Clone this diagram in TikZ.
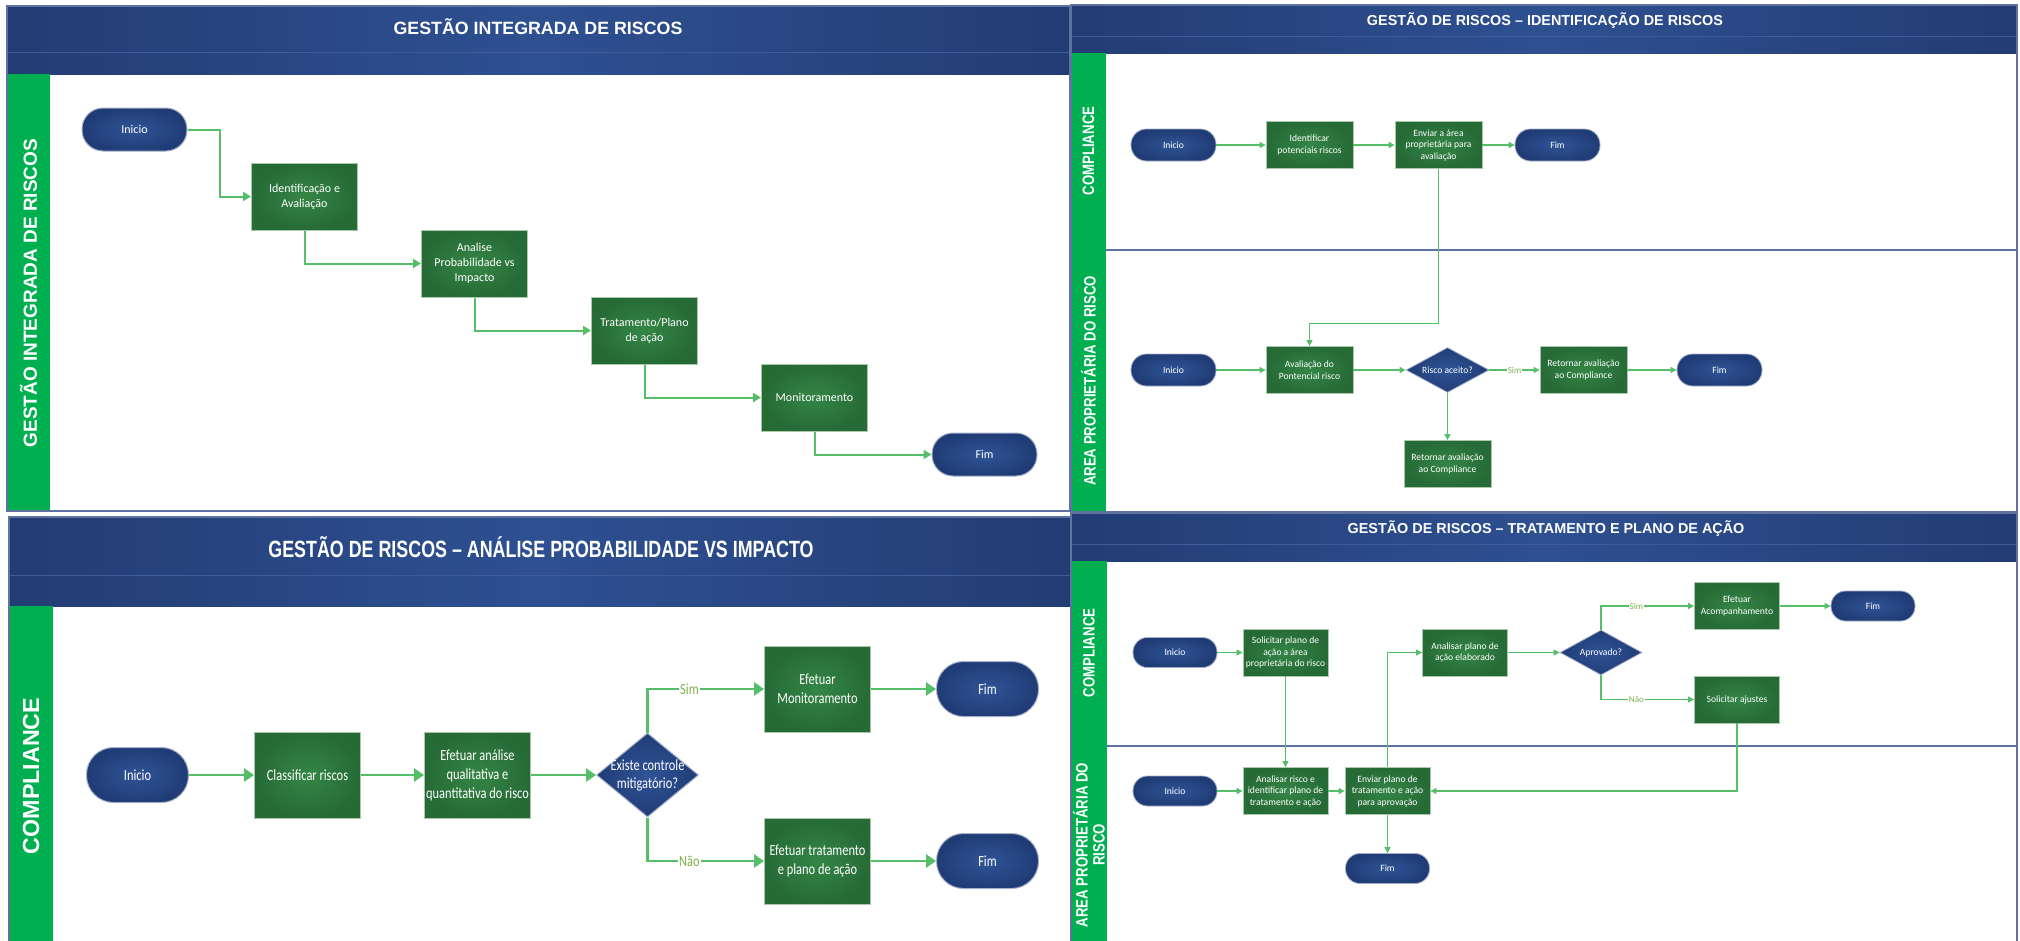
\documentclass[tikz,border=0pt]{standalone}
\usepackage{fontspec}
\setmainfont{Carlito}
\newfontfamily\titlefont{Liberation Sans}
\newfontfamily\titlenarrow{Liberation Sans}[FakeStretch=0.76]
\newfontfamily\lanenarrow{Liberation Sans}[FakeStretch=0.8]
\newfontfamily\boxnarrow{Carlito}[FakeStretch=0.8]
\usetikzlibrary{arrows.meta,shapes.geometric,positioning}

\definecolor{hdrblue}{RGB}{35,60,116}
\definecolor{hdrlight}{RGB}{46,80,145}
\definecolor{hdrline}{RGB}{62,92,152}
\definecolor{lanegreen}{RGB}{0,176,80}
\definecolor{termblue}{RGB}{32,60,118}
\definecolor{termlight}{RGB}{48,84,150}
\definecolor{termedge}{RGB}{165,175,200}
\definecolor{procgreen}{RGB}{38,106,54}
\definecolor{proclight}{RGB}{52,134,70}
\definecolor{procedge}{RGB}{170,200,170}
\definecolor{flowgreen}{RGB}{84,190,104}
\definecolor{labelgreen}{RGB}{128,178,78}
\definecolor{frameblue}{RGB}{95,115,160}

\begin{document}
\begin{tikzpicture}[x=1pt,y=-1pt,
Term1/.style={rectangle, rounded corners=21pt, inner color=termlight, outer color=termblue, draw=termedge, line width=1pt, minimum width=105pt, minimum height=43pt, text=white, font=\fontsize{12}{15}\selectfont, node distance=170pt},
Proc1/.style={rectangle, inner color=proclight, outer color=procgreen, draw=procedge, line width=1pt, minimum width=106pt, minimum height=67pt, text=white, align=center, font=\fontsize{12}{15}\selectfont, node distance=170pt},
Term2/.style={rectangle, rounded corners=15.5pt, inner color=termlight, outer color=termblue, draw=termedge, line width=0.8pt, minimum width=85pt, minimum height=32pt, text=white, font=\fontsize{9.6}{11.5}\selectfont, node distance=129pt},
Proc2/.style={rectangle, inner color=proclight, outer color=procgreen, draw=procedge, line width=0.8pt, minimum width=87pt, minimum height=47pt, inner sep=1pt, text=white, align=center, font=\fontsize{9.6}{11.5}\selectfont, node distance=129pt},
Dec2/.style={diamond, aspect=1.8, inner sep=0pt, inner color=termlight, outer color=termblue, draw=termedge, line width=0.8pt, minimum width=83pt, minimum height=45pt, text=white, align=center, font=\fontsize{9.6}{11.5}\selectfont, node distance=129pt},
Term3/.style={rectangle, rounded corners=27pt, inner color=termlight, outer color=termblue, draw=termedge, line width=1pt, minimum width=102pt, minimum height=55pt, text=white, font=\boxnarrow\fontsize{15.5}{19}\selectfont, node distance=170pt},
Proc3/.style={rectangle, inner color=proclight, outer color=procgreen, draw=procedge, line width=1pt, minimum width=106pt, minimum height=86pt, inner sep=1pt, text=white, align=center, font=\boxnarrow\fontsize{15.5}{19}\selectfont, node distance=170pt},
Dec3/.style={diamond, aspect=1.2, inner sep=-10pt, inner color=termlight, outer color=termblue, draw=termedge, line width=1pt, minimum width=102pt, minimum height=84pt, text=white, align=center, font=\boxnarrow\fontsize{15.5}{18}\selectfont, node distance=170pt},
Term4/.style={Term2, minimum width=84pt, minimum height=30pt, rounded corners=14.5pt, node distance=136pt},
Proc4/.style={Proc2, minimum width=85pt, node distance=136pt},
Dec4/.style={Dec2, minimum width=82pt, node distance=136pt},
flow_big/.style={draw=flowgreen, line width=2pt, -{Triangle[length=8pt,width=9pt]}},
flow_small/.style={draw=flowgreen, line width=1.2pt, -{Triangle[length=6pt,width=6pt]}},
flow_wide/.style={draw=flowgreen, line width=2.5pt, -{Triangle[length=10pt,width=13pt]}},
lbl_small/.style={fill=white, inner sep=1pt, text=labelgreen, font=\fontsize{9}{9}\selectfont},
lbl_big/.style={fill=white, inner sep=1pt, text=labelgreen, font=\boxnarrow\fontsize{15.5}{15.5}\selectfont},
hdr/.style={left color=hdrblue, right color=hdrblue, middle color=hdrlight},
lane/.style={rotate=90, text=white, align=center},
]
\useasboundingbox (0,0) rectangle (2020,940);
\fill[white] (0,0) rectangle (2020,940);

% panel frames
\shade[hdr] (7,6) rectangle (1070,74);
\draw[hdrline, line width=1pt] (7,52) -- (1070,52);
\fill[lanegreen] (7,74) rectangle (50,511);
\draw[frameblue, line width=1.5pt] (7,6) rectangle (1070,511);

\shade[hdr] (1071,5) rectangle (2017,53);
\draw[hdrline, line width=1pt] (1071,36) -- (2017,36);
\fill[lanegreen] (1071,53) rectangle (1106,512);
\draw[frameblue, line width=1.5pt] (1106,250) -- (2017,250);
\draw[frameblue, line width=1.5pt] (1071,5) rectangle (2017,512);

\shade[hdr] (9,517) rectangle (1072,606);
\draw[hdrline, line width=1pt] (9,575) -- (1072,575);
\fill[lanegreen] (9,606) rectangle (53,945);
\draw[frameblue, line width=1.5pt] (9,517) rectangle (1072,945);

\shade[hdr] (1071,513) rectangle (2017,561);
\draw[hdrline, line width=1pt] (1071,544) -- (2017,544);
\fill[lanegreen] (1071,561) rectangle (1107,945);
\draw[frameblue, line width=1.5pt] (1107,746) -- (2017,746);
\draw[frameblue, line width=1.5pt] (1071,513) rectangle (2017,945);

% titles and lanes
\node[text=white, font=\titlefont\bfseries\fontsize{17.8}{18}\selectfont] (ttl1) at (538,27) {GESTÃO INTEGRADA DE RISCOS};
\node[text=white, font=\titlefont\bfseries\fontsize{14.4}{15}\selectfont] (ttl2) at (1545,21) {GESTÃO DE RISCOS – IDENTIFICAÇÃO DE RISCOS};
\node[text=white, font=\titlenarrow\bfseries\fontsize{23.5}{24}\selectfont] (ttl3) at (541,547) {GESTÃO DE RISCOS – ANÁLISE PROBABILIDADE VS IMPACTO};
\node[text=white, font=\titlefont\bfseries\fontsize{14.4}{15}\selectfont] (ttl4) at (1546,529) {GESTÃO DE RISCOS – TRATAMENTO E PLANO DE AÇÃO};
\node[lane, font=\titlefont\bfseries\fontsize{19}{19}\selectfont] (lane1) at (28.5,293) {GESTÃO INTEGRADA DE RISCOS};
\node[lane, font=\lanenarrow\bfseries\fontsize{16.5}{17}\selectfont] (lane2a) at (1088.5,151) {COMPLIANCE};
\node[lane, font=\lanenarrow\bfseries\fontsize{16.5}{17}\selectfont] (lane2b) at (1088.5,381) {AREA PROPRIETÁRIA DO RISCO};
\node[lane, font=\titlefont\bfseries\fontsize{23.3}{24}\selectfont] (lane3) at (31,776) {COMPLIANCE};
\node[lane, font=\lanenarrow\bfseries\fontsize{16.5}{17}\selectfont] (lane4a) at (1089,653) {COMPLIANCE};
\node[lane, font=\lanenarrow\bfseries\fontsize{16.5}{17}\selectfont] (lane4b) at (1089,845) {AREA PROPRIETÁRIA DO\\RISCO};

% panel 1
\node[Term1] (ini1) at (134.5,129.5) {Inicio};
\node[Proc1, right of=ini1, yshift=-67pt] (ident1) {Identificação e\\Avaliação};
\node[Proc1, right of=ident1, yshift=-67pt] (anal1) {Analise\\Probabilidade vs\\Impacto};
\node[Proc1, right of=anal1, yshift=-67pt] (trat1) {Tratamento/Plano\\de ação};
\node[Proc1, right of=trat1, yshift=-67pt] (mon1) {Monitoramento};
\node[Term1, right of=mon1, yshift=-57pt] (fim1) {Fim};
\draw[flow_big] (ini1.east) -- ++(32,0) |- (ident1.west);
\draw[flow_big] (ident1.south) |- (anal1.west);
\draw[flow_big] (anal1.south) |- (trat1.west);
\draw[flow_big] (trat1.south) |- (mon1.west);
\draw[flow_big] (mon1.south) |- (fim1.west);

% panel 2
\node[Term2] (ini2a) at (1173.5,145) {Inicio};
\node[Proc2, right of=ini2a, xshift=7pt] (ident2) {Identificar\\potenciais riscos};
\node[Proc2, right of=ident2] (env2) {Enviar a área\\proprietária para\\avaliação};
\node[Term2, right of=env2, xshift=-10pt] (fim2a) {Fim};
\node[Term2] (ini2b) at (1173.5,370) {Inicio};
\node[Proc2, right of=ini2b, xshift=7pt] (aval2) {Avaliação do\\Pontencial risco};
\node[Dec2, right of=aval2, xshift=9pt] (dec2) {Risco aceito?};
\node[Proc2, right of=dec2, xshift=7pt] (ret2a) {Retornar avaliação\\ao Compliance};
\node[Term2, right of=ret2a, xshift=7pt] (fim2b) {Fim};
\node[Proc2, below of=dec2, yshift=35pt] (ret2b) {Retornar avaliação\\ao Compliance};
\draw[flow_small] (ini2a) -- (ident2);
\draw[flow_small] (ident2) -- (env2);
\draw[flow_small] (env2) -- (fim2a);
\draw[flow_small] (env2.south) -- ++(0,154.5) -| (aval2.north);
\draw[flow_small] (ini2b) -- (aval2);
\draw[flow_small] (aval2) -- (dec2);
\draw[flow_small] (dec2) -- node[lbl_small] (sim2) {Sim} (ret2a);
\draw[flow_small] (ret2a) -- (fim2b);
\draw[flow_small] (dec2) -- (ret2b);

% panel 3
\node[Term3] (ini3) at (137.5,775) {Inicio};
\node[Proc3, right of=ini3] (class3) {Classificar riscos};
\node[Proc3, right of=class3] (anal3) {Efetuar análise\\qualitativa e\\quantitativa do risco};
\node[Dec3, right of=anal3] (dec3) {Existe controle\\mitigatório?};
\node[Proc3, right of=dec3, yshift=86pt] (mon3) {Efetuar\\Monitoramento};
\node[Term3, right of=mon3] (fim3a) {Fim};
\node[Proc3, right of=dec3, yshift=-86pt] (trat3) {Efetuar tratamento\\e plano de ação};
\node[Term3, right of=trat3] (fim3b) {Fim};
\draw[flow_wide] (ini3) -- (class3);
\draw[flow_wide] (class3) -- (anal3);
\draw[flow_wide] (anal3) -- (dec3);
\draw[flow_wide] (dec3.north) |- node[lbl_big, pos=0.68] (sim3) {Sim} (mon3.west);
\draw[flow_wide] (dec3.south) |- node[lbl_big, pos=0.68] (nao3) {Não} (trat3.west);
\draw[flow_wide] (mon3) -- (fim3a);
\draw[flow_wide] (trat3) -- (fim3b);

% panel 4
\node[Term4] (ini4a) at (1175,652.5) {Inicio};
\node[Proc4, right of=ini4a, xshift=-25.5pt] (sol4) {Solicitar plano de\\ação a área\\proprietária do risco};
\node[Proc4, right of=sol4, xshift=43.5pt] (anp4) {Analisar plano de\\ação elaborado};
\node[Dec4, right of=anp4] (dec4) {Aprovado?};
\node[Proc4, right of=dec4, yshift=46.5pt] (acomp4) {Efetuar\\Acompanhamento};
\node[Term4, right of=acomp4] (fim4a) {Fim};
\node[Proc4, right of=dec4, yshift=-47pt] (aj4) {Solicitar ajustes};
\node[Term4] (ini4b) at (1175,791) {Inicio};
\node[Proc4, right of=ini4b, xshift=-25.5pt] (ana4) {Analisar risco e\\identificar plano de\\tratamento e ação};
\node[Proc4, right of=ana4, xshift=-34pt] (env4) {Enviar plano de\\tratamento e ação\\para aprovação};
\node[Term4, below of=env4, yshift=58.5pt] (fim4b) {Fim};
\draw[flow_small] (ini4a) -- (sol4);
\draw[flow_small] (sol4) -- (ana4);
\draw[flow_small] (anp4) -- (dec4);
\draw[flow_small] (dec4.north) |- node[lbl_small, pos=0.69] (sim4) {Sim} (acomp4.west);
\draw[flow_small] (dec4.south) |- node[lbl_small, pos=0.69] (nao4) {Não} (aj4.west);
\draw[flow_small] (acomp4) -- (fim4a);
\draw[flow_small] (ini4b) -- (ana4);
\draw[flow_small] (ana4) -- (env4);
\draw[flow_small] (env4.north) |- (anp4.west);
\draw[flow_small] (aj4.south) |- (env4.east);
\draw[flow_small] (env4) -- (fim4b);
\end{tikzpicture}
\end{document}
